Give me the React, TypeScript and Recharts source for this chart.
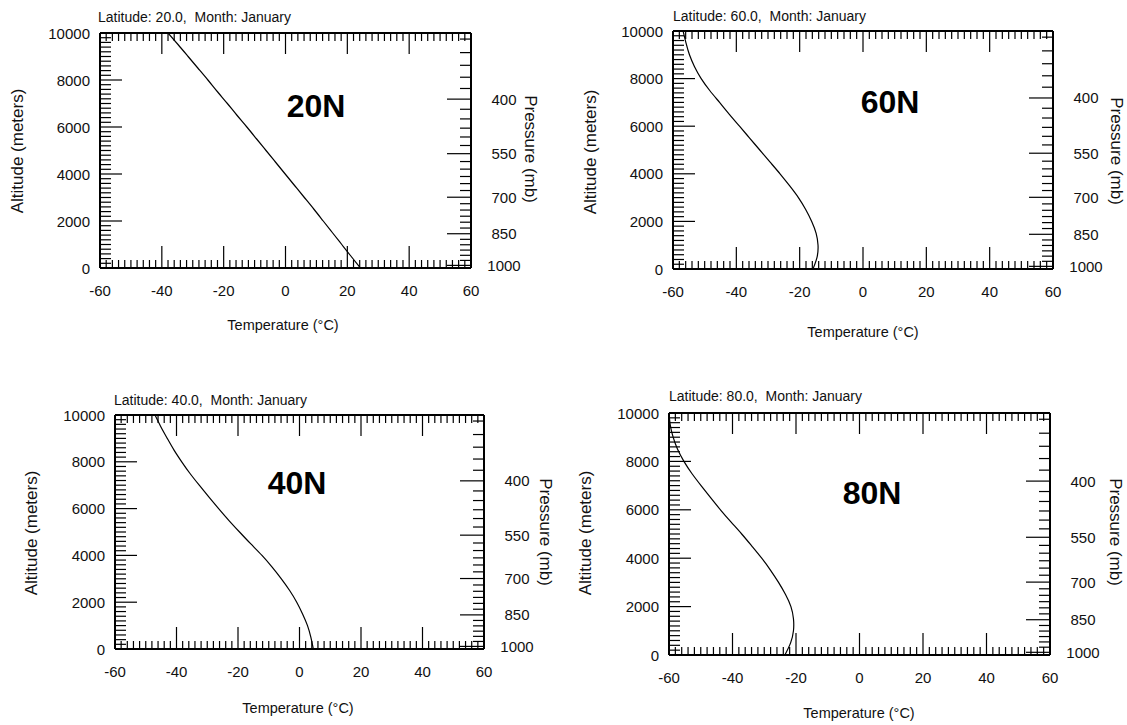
import React from "react";
import { Line, LineChart, XAxis, YAxis } from "recharts";

const altitudes = [
  0, 500, 1000, 1500, 2000, 2500, 3000, 3500, 4000, 4500, 5000, 5500, 6000, 6500, 7000, 7500, 8000, 8500, 9000,
  9500, 10000
];

// temperature (°C) at each altitude, January
const temps20N = [
  24.2, 21.2, 18.2, 15.2, 12.2, 9.2, 6.1, 3.0, -0.1, -3.2, -6.3, -9.4, -12.5, -15.7, -18.8, -22.0, -25.1, -28.3,
  -31.5, -34.7, -38.0
];
const temps60N = [
  -15.8, -14.5, -14.2, -14.8, -16.2, -18.1, -20.4, -23.2, -26.2, -29.4, -32.6, -35.8, -39.0, -42.2, -45.3, -48.4,
  -51.1, -53.2, -54.8, -55.9, -56.8
];
const temps40N = [
  4.5, 3.7, 2.6, 1.0, -0.9, -3.2, -5.9, -8.9, -12.2, -15.9, -19.5, -23.0, -26.3, -29.5, -32.6, -35.6, -38.3, -40.8,
  -43.0, -45.1, -47.0
];
const temps80N = [
  -23.5, -21.7, -20.8, -20.8, -21.6, -23.3, -25.5, -28.0, -30.8, -33.9, -37.1, -40.5, -43.8, -46.9, -49.9, -52.8,
  -55.3, -57.3, -58.7, -59.6, -60.0
];

const tempMajorTicks = [-60, -40, -20, 0, 20, 40, 60];
const altMajorTicks = [0, 2000, 4000, 6000, 8000, 10000];

// pressure scale on the right (mb) and the altitude each level sits at
const pressureLevels = [
  275, 300, 325, 350, 375, 400, 425, 450, 475, 500, 525, 550, 575, 600, 625, 650, 675, 700, 725, 750, 775, 800, 825,
  850, 875, 900, 925, 950, 975, 1000
];
const pressureAltitudes = [
  9742, 9165, 8625, 8118, 7639, 7186, 6755, 6344, 5951, 5575, 5213, 4865, 4530, 4207, 3894, 3591, 3297, 3012, 2736,
  2466, 2204, 1949, 1700, 1458, 1220, 989, 762, 540, 323, 111
];
const pressureMajorTicks = [400, 550, 700, 850, 1000];

const range = (start: number, stop: number, step: number) => {
  const out: number[] = [];
  for (let v = start; v <= stop; v += step) out.push(v);
  return out;
};
const tempTicks = range(-60, 60, 2);
const altTicks = range(0, 10000, 200);

const FONT = '"Liberation Sans", Arial, sans-serif';
const INK = "#111";
const AX_L = 70;
const AX_R = 60;
const AX_T = 14;
const AX_B = 40;

const panels = [
  {
    name: "20N", lat: "20.0", temps: temps20N,
    plot: { l: 100, t: 33, r: 471, b: 268 },
    title: { x: 98, y: 17 }, tag: { x: 316, y: 106 },
    xTitle: { x: 283, y: 325 }, yTitle: { x: 18, y: 151 }, pTitle: { x: 530, y: 149 }
  },
  {
    name: "60N", lat: "60.0", temps: temps60N,
    plot: { l: 673, t: 31, r: 1053, b: 269 },
    title: { x: 673, y: 16 }, tag: { x: 890, y: 102 },
    xTitle: { x: 863, y: 332 }, yTitle: { x: 591, y: 152 }, pTitle: { x: 1116, y: 151 }
  },
  {
    name: "40N", lat: "40.0", temps: temps40N,
    plot: { l: 115, t: 415, r: 484, b: 649 },
    title: { x: 114, y: 400 }, tag: { x: 297, y: 483 },
    xTitle: { x: 298, y: 708 }, yTitle: { x: 32, y: 533 }, pTitle: { x: 545, y: 532 }
  },
  {
    name: "80N", lat: "80.0", temps: temps80N,
    plot: { l: 669, t: 413, r: 1050, b: 655 },
    title: { x: 669, y: 396 }, tag: { x: 872, y: 493 },
    xTitle: { x: 859, y: 713 }, yTitle: { x: 586, y: 533 }, pTitle: { x: 1115, y: 532 }
  }
];

const tickText = { fontSize: 15, fontFamily: FONT, fill: INK };

const BottomTick = ({ x, y, payload }: any) => {
  const major = tempMajorTicks.includes(payload.value);
  return (
    <g>
      <line x1={x} x2={x} y1={y} y2={y - (major ? 22 : 8)} stroke="#000" strokeWidth={1.2} />
      {major && (
        <text x={x} y={y + 22} textAnchor="middle" dominantBaseline="central" {...tickText}>
          {payload.value}
        </text>
      )}
    </g>
  );
};

const TopTick = ({ x, y, payload }: any) => {
  const major = tempMajorTicks.includes(payload.value);
  return <line x1={x} x2={x} y1={y} y2={y + (major ? 21 : 8)} stroke="#000" strokeWidth={1.2} />;
};

const LeftTick = ({ x, y, payload }: any) => {
  const major = altMajorTicks.includes(payload.value);
  return (
    <g>
      <line x1={x} x2={x + (major ? 22 : 11)} y1={y} y2={y} stroke="#000" strokeWidth={1.2} />
      {major && (
        <text x={x - 10} y={y} textAnchor="end" dominantBaseline="central" {...tickText}>
          {payload.value}
        </text>
      )}
    </g>
  );
};

const RightTick = ({ x, y, payload }: any) => {
  const level = pressureLevels[pressureAltitudes.indexOf(payload.value)];
  const major = pressureMajorTicks.includes(level);
  return (
    <g>
      <line x1={x} x2={x - (major ? 24 : 11)} y1={y} y2={y} stroke="#000" strokeWidth={1.2} />
      {major && (
        <text x={x + 33} y={y} textAnchor="middle" dominantBaseline="central" {...tickText}>
          {level}
        </text>
      )}
    </g>
  );
};

const border = { stroke: "#000", strokeWidth: 2 };

function Panel({ panel }: { panel: (typeof panels)[number] }) {
  const { plot } = panel;
  const data = altitudes.map((alt, i) => ({ alt, t: panel.temps[i] }));
  const w = plot.r - plot.l;
  const h = plot.b - plot.t;
  const centered = { position: "absolute" as const, fontFamily: FONT, color: INK, whiteSpace: "nowrap" as const };

  return (
    <>
      <div style={{ position: "absolute", left: plot.l - AX_L, top: plot.t - AX_T }}>
        <LineChart
          width={w + AX_L + AX_R}
          height={h + AX_T + AX_B}
          data={data}
          margin={{ top: 0, right: 0, bottom: 0, left: 0 }}
        >
          <XAxis
            xAxisId="bottom"
            dataKey="t"
            type="number"
            domain={[-60, 60]}
            allowDataOverflow
            ticks={tempTicks}
            interval={0}
            height={AX_B}
            tickSize={0}
            tickMargin={0}
            tickLine={false}
            axisLine={border}
            tick={BottomTick}
          />
          <XAxis
            xAxisId="top"
            orientation="top"
            dataKey="t"
            type="number"
            domain={[-60, 60]}
            allowDataOverflow
            ticks={tempTicks}
            interval={0}
            height={AX_T}
            tickSize={0}
            tickMargin={0}
            tickLine={false}
            axisLine={border}
            tick={TopTick}
          />
          <YAxis
            yAxisId="left"
            type="number"
            domain={[0, 10000]}
            allowDataOverflow
            ticks={altTicks}
            interval={0}
            width={AX_L}
            tickSize={0}
            tickMargin={0}
            tickLine={false}
            axisLine={border}
            tick={LeftTick}
          />
          <YAxis
            yAxisId="right"
            orientation="right"
            type="number"
            domain={[0, 10000]}
            allowDataOverflow
            ticks={pressureAltitudes}
            interval={0}
            width={AX_R}
            tickSize={0}
            tickMargin={0}
            tickLine={false}
            axisLine={border}
            tick={RightTick}
          />
          <Line
            xAxisId="bottom"
            yAxisId="left"
            dataKey="alt"
            type="natural"
            stroke="#000"
            strokeWidth={1.2}
            dot={false}
            isAnimationActive={false}
          />
          <Line
            xAxisId="top"
            yAxisId="right"
            dataKey="alt"
            stroke="none"
            dot={false}
            isAnimationActive={false}
          />
        </LineChart>
      </div>
      <div style={{ ...centered, left: panel.title.x, top: panel.title.y, transform: "translateY(-50%)", fontSize: 14, whiteSpace: "pre" }}>
        {`Latitude: ${panel.lat},  Month: January`}
      </div>
      <div style={{ ...centered, left: panel.tag.x, top: panel.tag.y, transform: "translate(-50%, -50%)", fontSize: 32, fontWeight: 700, color: "#000" }}>
        {panel.name}
      </div>
      <div style={{ ...centered, left: panel.xTitle.x, top: panel.xTitle.y, transform: "translate(-50%, -50%)", fontSize: 14.5 }}>
        Temperature (°C)
      </div>
      <div style={{ ...centered, left: panel.yTitle.x, top: panel.yTitle.y, transform: "translate(-50%, -50%) rotate(-90deg)", fontSize: 17 }}>
        Altitude (meters)
      </div>
      <div style={{ ...centered, left: panel.pTitle.x, top: panel.pTitle.y, transform: "translate(-50%, -50%) rotate(90deg)", fontSize: 17 }}>
        Pressure (mb)
      </div>
    </>
  );
}

export default function App() {
  return (
    <div style={{ position: "absolute", left: 0, top: 0, width: 1127, height: 725, background: "#fff", overflow: "hidden" }}>
      {panels.map((p) => (
        <Panel key={p.name} panel={p} />
      ))}
    </div>
  );
}
